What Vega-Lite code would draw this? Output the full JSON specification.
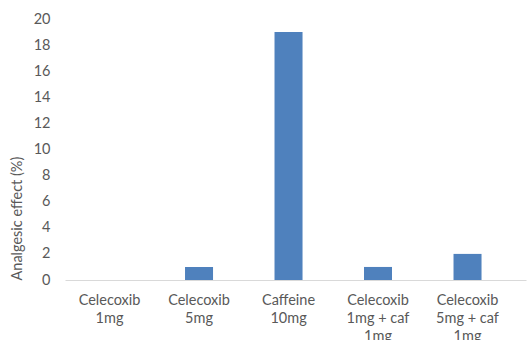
{
  "$schema": "https://vega.github.io/schema/vega-lite/v6.json",
  "width": 461,
  "height": 261,
  "autosize": "none",
  "padding": {"left": 65, "top": 19, "right": 3, "bottom": 60},
  "background": "white",
  "data": {"values": [
    {"treatment": "Celecoxib|1mg", "effect": 0},
    {"treatment": "Celecoxib|5mg", "effect": 1},
    {"treatment": "Caffeine|10mg", "effect": 19},
    {"treatment": "Celecoxib|1mg + caf|1mg", "effect": 1},
    {"treatment": "Celecoxib|5mg + caf|1mg", "effect": 2}
  ]},
  "mark": {"type": "bar", "color": "#4F81BD"},
  "encoding": {
    "x": {
      "field": "treatment", "type": "nominal", "sort": null,
      "scale": {"paddingInner": 0.687, "paddingOuter": 0.419, "align": 0.407},
      "axis": {
        "title": null, "labelAngle": 0, "ticks": false,
        "domainColor": "#D9D9D9", "labelColor": "#595959",
        "labelFont": "Lato", "labelFontSize": 14.5, "labelPadding": 13,
        "labelLineHeight": 18, "labelBaseline": "top",
        "labelExpr": "split(datum.value, '|')"
      }
    },
    "y": {
      "field": "effect", "type": "quantitative",
      "scale": {"domain": [0, 20]},
      "axis": {
        "title": "Analgesic effect (%)", "values": [0,2,4,6,8,10,12,14,16,18,20],
        "grid": false, "domain": false, "ticks": false,
        "labelColor": "#595959", "labelFont": "Lato", "labelFontSize": 14.5,
        "labelPadding": 15,
        "titleColor": "#595959", "titleFont": "Lato", "titleFontSize": 14.5,
        "titleFontWeight": "normal", "titlePadding": 9,
        "titleAnchor": "start"
      }
    }
  },
  "config": {"view": {"stroke": null}}
}
